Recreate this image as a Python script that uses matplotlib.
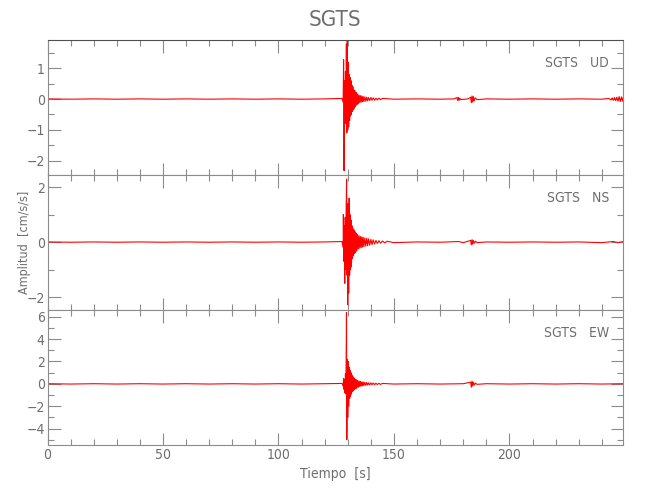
import matplotlib
matplotlib.use("Agg")
import matplotlib.pyplot as plt
from matplotlib.ticker import MultipleLocator

plt.rcParams['font.family'] = ['DejaVu Sans']
plt.rcParams['font.stretch'] = 'condensed'

station = "SGTS"
components = ["UD", "NS", "EW"]

# peak readings of each trace (time in s, amplitude in cm/s/s)
ud_t = [0, 10, 20, 30, 40, 50, 60, 70, 80, 90, 100, 110, 120, 127.5,
        128.0, 128.2, 128.4, 128.6, 128.8, 129.0, 129.2, 129.4, 129.6, 129.8,
        130.0, 130.2, 130.4, 130.6, 130.8, 131.0, 131.2, 131.4, 131.6, 131.8,
        132.0, 132.2, 132.4, 132.6, 132.8, 133.0, 133.2, 133.4, 133.6, 133.8,
        134.0, 134.3, 134.6, 134.9, 135.2, 135.5, 135.8, 136.1, 136.4, 136.7,
        137.0, 137.4, 137.8, 138.2, 138.6, 139.0, 139.5, 140.0, 140.5, 141.0,
        141.6, 142.2, 142.8, 143.5, 144.2, 145, 150, 160, 170, 176,
        177.3, 177.6, 177.9, 178.2, 178.5, 179, 182, 183.2, 183.5, 183.8,
        184.1, 184.4, 184.7, 185.2, 186, 190, 200, 210, 220, 230,
        240, 243, 244, 244.5, 245, 245.5, 246, 246.5, 247, 247.5,
        248, 248.5, 249, 249.3]
ud_v = [0.005, -0.005, 0.005, -0.005, 0.005, -0.005, 0.005, -0.005, 0.005, -0.005, 0.005, -0.005, 0.005, 0.02,
        -0.1, 1.28, -2.33, 0.6, -0.5, 0.9, -0.8, 1.79, -1.1, 1.9,
        -1.0, 1.2, -0.9, 0.8, -0.7, 0.7, -0.55, 0.6, -0.5, 0.45,
        -0.4, 0.4, -0.35, 0.3, -0.3, 0.28, -0.25, 0.22, -0.2, 0.2,
        -0.18, 0.16, -0.15, 0.13, -0.12, 0.11, -0.1, 0.1, -0.09, 0.08,
        -0.08, 0.07, -0.07, 0.06, -0.06, 0.05, -0.05, 0.05, -0.04, 0.04,
        -0.04, 0.03, -0.03, 0.03, -0.02, 0.02, -0.005, 0.005, -0.005, 0.005,
        0.05, -0.05, 0.05, -0.04, 0.03, -0.02, 0.005, 0.06, -0.12, 0.1,
        -0.1, 0.08, -0.06, 0.04, -0.02, 0.005, -0.005, 0.005, -0.005, 0.005,
        -0.005, 0.02, -0.03, 0.04, -0.04, 0.05, -0.05, 0.06, -0.07, 0.08,
        -0.08, 0.07, -0.07, 0.05]

ns_t = [0, 10, 20, 30, 40, 50, 60, 70, 80, 90, 100, 110, 120, 127.5,
        128.0, 128.1, 128.3, 128.5, 128.7, 128.9, 129.1, 129.3, 129.5, 129.7,
        129.9, 130.0, 130.2, 130.4, 130.6, 130.8, 131.0, 131.2, 131.4, 131.6,
        131.8, 132.0, 132.2, 132.4, 132.6, 132.8, 133.0, 133.2, 133.4, 133.6,
        133.8, 134.0, 134.3, 134.6, 134.9, 135.2, 135.5, 135.8, 136.1, 136.4,
        136.7, 137.0, 137.4, 137.8, 138.2, 138.6, 139.0, 139.5, 140.0, 140.5,
        141.0, 141.6, 142.2, 142.8, 143.5, 144.2, 145.0, 146.0, 147.0, 150,
        160, 170, 178, 180, 183.2, 183.5, 183.8, 184.1, 184.4, 184.8,
        185.3, 186, 190, 200, 210, 220, 230, 240, 245, 247,
        249.3]
ns_v = [0.005, -0.005, 0.005, -0.005, 0.005, -0.005, 0.005, -0.005, 0.005, -0.005, 0.005, -0.005, 0.005, 0.02,
        -0.2, 1.0, -0.7, 0.6, -1.5, 0.9, -1.0, 1.2, 2.29, -1.2,
        1.4, -2.28, 1.3, -1.85, 1.6, -1.2, 1.0, -1.0, 0.8, -0.9,
        0.6, -0.6, 0.5, -0.5, 0.45, -0.42, 0.4, -0.38, 0.35, -0.33,
        0.3, -0.3, 0.27, -0.25, 0.23, -0.22, 0.2, -0.2, 0.19, -0.18,
        0.17, -0.16, 0.15, -0.15, 0.14, -0.13, 0.12, -0.11, 0.1, -0.09,
        0.08, -0.07, 0.06, -0.05, 0.05, -0.04, 0.04, -0.03, 0.03, -0.02,
        0.005, -0.005, 0.02, -0.02, 0.06, -0.1, 0.09, -0.08, 0.06, -0.04,
        0.03, -0.02, 0.005, -0.005, 0.005, -0.005, 0.005, -0.02, 0.02, -0.02,
        0.02]

ew_t = [0, 10, 20, 30, 40, 50, 60, 70, 80, 90, 100, 110, 120, 127.5,
        128.0, 128.2, 128.4, 128.6, 128.8, 129.0, 129.2, 129.45, 129.6, 129.8,
        130.0, 130.2, 130.4, 130.6, 130.8, 131.0, 131.2, 131.4, 131.6, 131.8,
        132.0, 132.2, 132.4, 132.6, 132.8, 133.0, 133.2, 133.4, 133.6, 133.8,
        134.0, 134.3, 134.6, 134.9, 135.2, 135.5, 135.8, 136.1, 136.4, 136.7,
        137.0, 137.4, 137.8, 138.2, 138.6, 139.0, 139.5, 140.0, 140.5, 141.0,
        141.6, 142.2, 142.8, 143.5, 144.2, 145.0, 150, 160, 170, 180,
        183.2, 183.5, 183.8, 184.1, 184.4, 184.8, 185.3, 186, 190, 200,
        210, 220, 230, 240, 249.3]
ew_v = [0.015, -0.015, 0.015, -0.015, 0.015, -0.015, 0.015, -0.015, 0.015, -0.015, 0.015, -0.015, 0.015, 0.04,
        -0.2, 0.5, -0.5, 0.4, -0.8, 0.9, -0.9, 6.36, -4.98, 2.2,
        -3.0, 2.0, -2.0, 1.5, -1.3, 1.2, -1.1, 1.0, -0.9, 0.8,
        -0.7, 0.65, -0.6, 0.55, -0.5, 0.45, -0.45, 0.4, -0.4, 0.35,
        -0.35, 0.3, -0.3, 0.26, -0.24, 0.22, -0.2, 0.18, -0.17, 0.16,
        -0.15, 0.14, -0.13, 0.12, -0.11, 0.1, -0.1, 0.09, -0.08, 0.08,
        -0.07, 0.06, -0.06, 0.05, -0.05, 0.04, -0.015, 0.015, -0.015, 0.015,
        0.15, -0.3, 0.25, -0.2, 0.15, -0.1, 0.06, -0.04, 0.015, -0.015,
        0.015, -0.015, 0.015, -0.015, 0.015]

traces = [(ud_t, ud_v), (ns_t, ns_v), (ew_t, ew_v)]
ylims = [(-2.47, 1.92), (-2.47, 2.44), (-5.46, 6.6)]
ymajor = [1, 2, 2]
yminor = [0.5, 1, 1]

grey = '#8c8c8c'
txt = '#6e6e6e'

fig = plt.figure(figsize=(6.5, 5), dpi=100)
left, width = 47.5 / 650, (623.3 - 47.5) / 650
h = 135 / 500
bottoms = [(500 - 175) / 500, (500 - 310) / 500, (500 - 445) / 500]

axes = []
for i, (t, v) in enumerate(traces):
    ax = fig.add_axes([left, bottoms[i], width, h])
    ax.plot(t, v, color='red', lw=0.8)
    ax.set_xlim(0, 249.3)
    ax.set_ylim(*ylims[i])
    ax.xaxis.set_major_locator(MultipleLocator(50))
    ax.xaxis.set_minor_locator(MultipleLocator(10))
    ax.yaxis.set_major_locator(MultipleLocator(ymajor[i]))
    ax.yaxis.set_minor_locator(MultipleLocator(yminor[i]))
    ax.tick_params(which='both', direction='in', top=True, right=True,
                   color=grey, labelcolor=txt, labelsize=10, pad=2)
    ax.tick_params(which='major', length=9, width=0.8)
    ax.tick_params(which='minor', length=4.5, width=0.8)
    for s in ax.spines.values():
        s.set_color(grey)
        s.set_linewidth(0.8)
    if i < 2:
        ax.tick_params(labelbottom=False)
    ax.text(0.975, 0.885, station + "   " + components[i], transform=ax.transAxes,
            ha='right', va='top', color=txt, fontsize=10)
    axes.append(ax)

axes[0].spines['top'].set_color('#505050')
axes[2].set_xlabel("Tiempo  [s]", color=txt, fontsize=10, labelpad=4)
fig.text(25 / 650, (500 - 242) / 500, "Amplitud  [cm/s/s]", rotation=90,
         ha='center', va='center', color=txt, fontsize=9)
fig.text(335 / 650, (500 - 20) / 500, station, ha='center', va='center',
         color=txt, fontsize=16)

fig.savefig("out.png", dpi=100)
